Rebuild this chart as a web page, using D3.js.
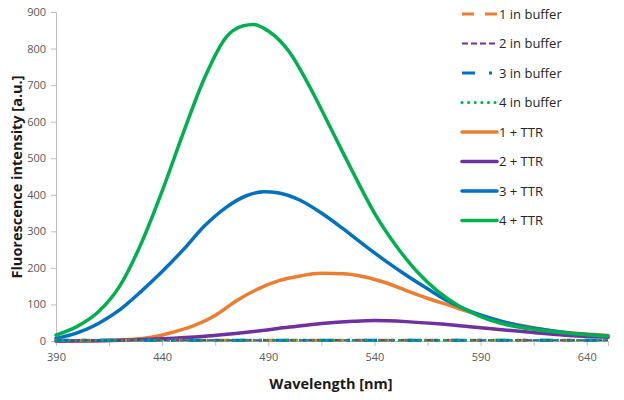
<!DOCTYPE html>
<html><head><meta charset="utf-8">
<script src="https://cdn.jsdelivr.net/npm/d3@7"></script>
<style>body{margin:0;background:#fff}svg{display:block}</style>
</head><body><svg id="c" width="624" height="400"></svg>
<script>
const seriesNames = ["1 in buffer","2 in buffer","3 in buffer","4 in buffer","1 + TTR","2 + TTR","3 + TTR","4 + TTR"];
const seriesColors = ["#ED7D31","#7030A0","#0070C0","#00B050","#ED7D31","#7030A0","#0070C0","#00B050"];
const xTicks = [390,440,490,540,590,640];
const yTicks = [0,100,200,300,400,500,600,700,800,900];

const bufWl = [390,420,450,480,510,540,570,600,630,650];
const buf1 = [2,2,2,2,2,2,2,2,2,2];
const buf2 = [2,2,2,2,2,2,2,2,2,2];
const buf3 = [2,2,2,2,2,2,2,2,2,2];
const buf4 = [2,2,2,2,2,2,2,2,2,2];

const ttr1Wl = [390,410,425,435,445,455,465,475,485,495,505,515,525,535,545,555,565,575,585,595,605,615,625,635,650];
const ttr1   = [0,1,4,10,24,42,70,110,142,165,178,185,184,176,160,138,117,98,79,62,47,36,27,21,15];
const ttr2Wl = [390,420,440,460,480,500,515,530,540,555,570,585,600,615,630,650];
const ttr2   = [0,2,6,13,24,38,48,54,56,53,47,39,31,23,16,10];
const ttr3Wl = [390,400,410,420,430,440,450,460,470,480,488,495,505,515,525,535,545,555,565,575,585,595,605,615,625,635,650];
const ttr3   = [7,22,48,85,135,190,250,315,365,398,408,405,385,350,308,263,220,180,143,108,82,62,46,35,27,20,14];
const ttr4Wl = [390,400,410,420,430,440,450,460,470,478,483,490,500,510,520,530,540,550,560,570,580,590,600,610,620,630,640,650];
const ttr4   = [16,40,80,150,265,410,570,720,830,862,866,848,790,690,575,460,350,262,190,135,95,67,48,36,28,22,17,13];

const seriesWl = [bufWl,bufWl,bufWl,bufWl,ttr1Wl,ttr2Wl,ttr3Wl,ttr4Wl];
const seriesVals = [buf1,buf2,buf3,buf4,ttr1,ttr2,ttr3,ttr4];
const dashes = ["12,11","6,3","13,14,3,14","0.1,6.5",null,null,null,null];
const widths = [3,2,3,3,3.5,3.5,3.5,3.5];
const caps = ["butt","butt","butt","round","round","round","round","round"];

const svg = d3.select("#c");
const m = {l:56, r:608, t:12, b:341};
const x = d3.scaleLinear().domain([390,650]).range([m.l,m.r]);
const y = d3.scaleLinear().domain([0,900]).range([m.b,m.t]);
const font = "'Open Sans', sans-serif";
const axisCol = "#bfbfbf";

// y axis
const ya = svg.append("g").attr("transform",`translate(${m.l},0)`)
  .call(d3.axisLeft(y).tickValues(yTicks).tickSize(5).tickPadding(5));
ya.select(".domain").attr("stroke",axisCol);
ya.selectAll(".tick line").attr("stroke",axisCol);
ya.selectAll("text").attr("font-family",font).attr("font-size",11).attr("fill","#595959");

// x axis
const xa = svg.append("g").attr("transform",`translate(0,${m.b})`)
  .call(d3.axisBottom(x).tickValues(d3.range(390,651,25)).tickSize(5).tickPadding(7)
    .tickFormat(d => xTicks.includes(d) ? d : ""));
xa.select(".domain").attr("stroke",axisCol);
xa.selectAll(".tick line").attr("stroke",axisCol);
xa.selectAll("text").attr("font-family",font).attr("font-size",11).attr("fill","#595959");

// titles
svg.append("text").attr("x",331).attr("y",389).attr("text-anchor","middle")
  .attr("font-family",font).attr("font-weight","bold").attr("font-size",14.5).attr("fill","#1a1a1a")
  .text("Wavelength [nm]");
svg.append("text").attr("transform","translate(22,177) rotate(-90)").attr("text-anchor","middle")
  .attr("font-family",font).attr("font-weight","bold").attr("font-size",14.5).attr("fill","#1a1a1a")
  .text("Fluorescence intensity [a.u.]");

const line = d3.line().curve(d3.curveMonotoneX);
const order = [4,5,6,7,0,1,2,3];
order.forEach(i => {
  const pts = seriesWl[i].map((w,k) => [x(w), y(seriesVals[i][k])]);
  const p = svg.append("path").attr("d", line(pts)).attr("fill","none")
    .attr("stroke", seriesColors[i]).attr("stroke-width", widths[i])
    .attr("stroke-linecap", caps[i]).attr("stroke-linejoin","round");
  if (dashes[i]) p.attr("stroke-dasharray", dashes[i]);
});

// legend
const lg = svg.append("g");
seriesNames.forEach((n,i) => {
  const yy = 14 + i*29.5;
  const l = lg.append("line").attr("x1",462).attr("x2",497).attr("y1",yy).attr("y2",yy)
    .attr("stroke",seriesColors[i]).attr("stroke-width",widths[i]).attr("stroke-linecap",caps[i]);
  if (dashes[i]) l.attr("stroke-dasharray",dashes[i]);
  lg.append("text").attr("x",499).attr("y",yy).attr("dy","0.35em")
    .attr("font-family",font).attr("font-size",13).attr("fill","#262626").text(n);
});
</script></body></html>
